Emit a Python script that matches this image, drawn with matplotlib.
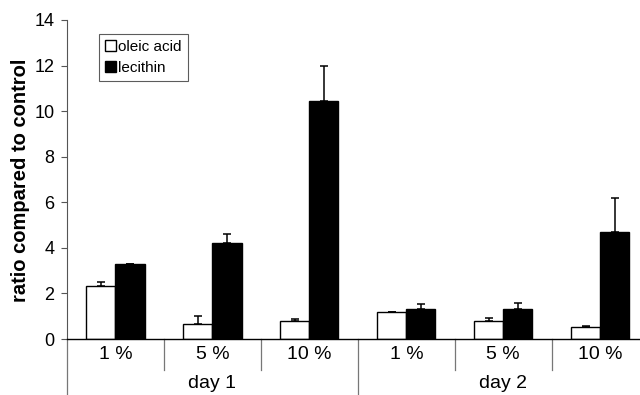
import numpy as np
import matplotlib
matplotlib.use("Agg")
import matplotlib.pyplot as plt
from matplotlib.patches import Patch
import matplotlib.transforms as mtransforms

plt.rcParams['font.family'] = ['Liberation Sans', 'DejaVu Sans']

# data
conc_labels = ['1 %', '5 %', '10 %', '1 %', '5 %', '10 %']
day_labels = ['day 1', 'day 2']
oleic = [2.32, 0.64, 0.78, 1.20, 0.78, 0.51]
oleic_err = [0.19, 0.38, 0.11, 0.0, 0.12, 0.07]
lecithin = [3.30, 4.21, 10.45, 1.31, 1.31, 4.71]
lecithin_err = [0.0, 0.38, 1.55, 0.21, 0.25, 1.49]

x = np.arange(len(conc_labels))
w = 0.3

fig = plt.figure(figsize=(6.4, 3.95), dpi=100)
ax = fig.add_axes([67 / 640, 56 / 395, 573 / 640, 319 / 395])

ax.bar(x - w / 2, oleic, w, color='white', edgecolor='black', linewidth=1.0,
       label='oleic acid', zorder=2)
ax.bar(x + w / 2, lecithin, w, color='black', edgecolor='black', linewidth=1.0,
       label='lecithin', zorder=2)

# upward-only error bars
ax.errorbar(x - w / 2, oleic, yerr=[np.zeros(len(x)), oleic_err], fmt='none',
            ecolor='black', elinewidth=1.1, capsize=3, capthick=1.1, zorder=1)
ax.errorbar(x + w / 2, lecithin, yerr=[np.zeros(len(x)), lecithin_err], fmt='none',
            ecolor='black', elinewidth=1.1, capsize=3, capthick=1.1, zorder=1)

ax.set_ylim(0, 14)
ax.set_yticks(np.arange(0, 15, 2))
ax.set_xlim(-0.5, 5.41)
ax.set_xticks([])
ax.tick_params(axis='y', length=4, width=0.8, pad=5, labelsize=13, color='#555555')

for s in ['top', 'right', 'bottom']:
    ax.spines[s].set_visible(False)
ax.spines['left'].set_color('#555555')
ax.spines['left'].set_linewidth(0.8)
ax.axhline(0, color='black', linewidth=1.0, zorder=3, clip_on=False)

# category axis: separators and two-level labels
trans = mtransforms.blended_transform_factory(ax.transData, ax.transAxes)
for xs in [0.5, 1.5, 3.5, 4.5]:
    ax.plot([xs, xs], [0, -0.097], transform=trans, color='#777777',
            linewidth=0.9, clip_on=False)
for xs in [-0.5, 2.5]:
    ax.plot([xs, xs], [0, -0.2], transform=trans, color='#777777',
            linewidth=0.9, clip_on=False)

for i, lab in enumerate(conc_labels):
    ax.text(i, -0.05, lab, transform=trans, ha='center', va='center', fontsize=14)
for i, lab in enumerate(day_labels):
    ax.text(1 + 3 * i, -0.138, lab, transform=trans, ha='center', va='center',
            fontsize=14)

fig.text(21 / 640, 1 - 180 / 395, 'ratio compared to control', rotation=90,
         ha='center', va='center', fontsize=14.5, fontweight='bold')

handles = [Patch(facecolor='white', edgecolor='black', linewidth=1.0),
           Patch(facecolor='black', edgecolor='black', linewidth=1.0)]
leg = fig.legend(handles, ['oleic acid', 'lecithin'], loc='upper left',
                 bbox_to_anchor=(99 / 640, 1 - 34 / 395), fontsize=11,
                 frameon=True, fancybox=False, edgecolor='#333333',
                 handlelength=0.7, handleheight=0.7, handletextpad=0.15,
                 borderpad=0.4, labelspacing=0.45, borderaxespad=0)
leg.get_frame().set_linewidth(0.8)

fig.savefig('out.png', dpi=100)
